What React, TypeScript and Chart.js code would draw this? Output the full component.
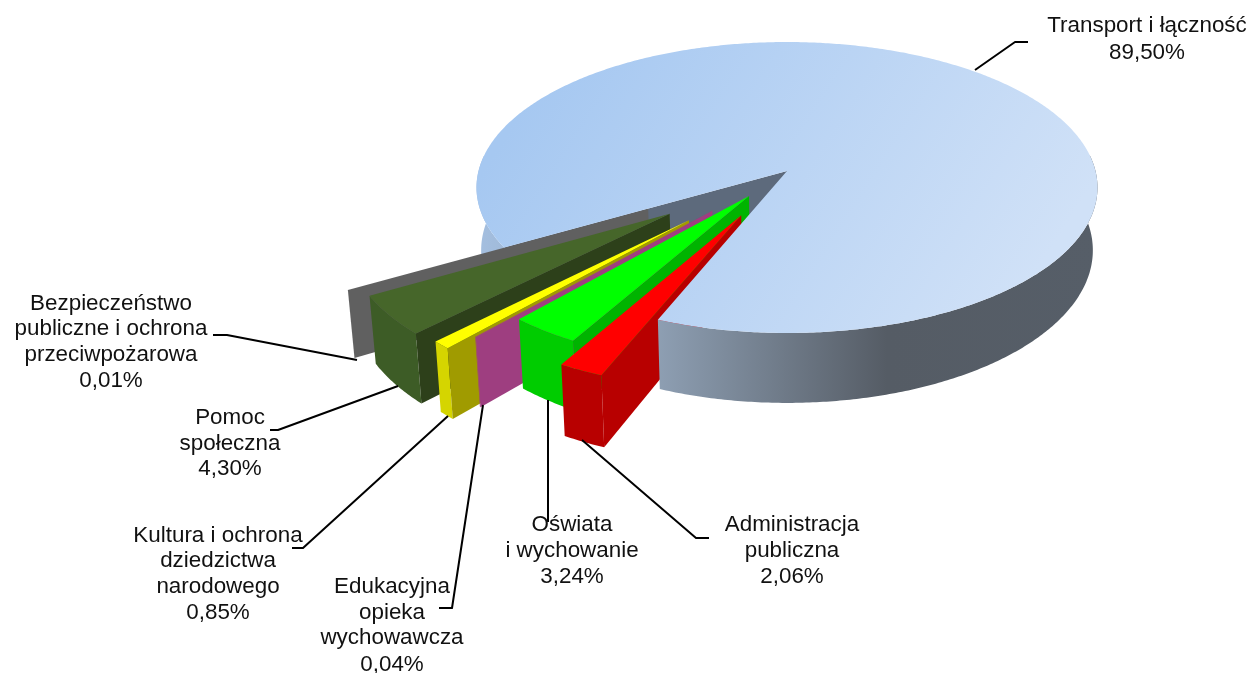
import React, { useEffect, useRef } from "react";
import { Chart, registerables } from "chart.js";

Chart.register(...registerables);

// ---- data ----
const categories = [
  "Transport i łączność",
  "Administracja publiczna",
  "Oświata i wychowanie",
  "Edukacyjna opieka wychowawcza",
  "Kultura i ochrona dziedzictwa narodowego",
  "Pomoc społeczna",
  "Bezpieczeństwo publiczne i ochrona przeciwpożarowa",
];
const shares = [89.5, 2.06, 3.24, 0.04, 0.85, 4.3, 0.01];
const explosions = [0, 102, 64.5, 110, 139, 144, 156];
const topColors = ["#B8D2F3", "#FF0000", "#00FF00", "#A0407F", "#FFFF00", "#46662A", "#606060"];
const rimColors = ["#7A8797", "#B80000", "#00CC00", "#9E3E80", "#D5D500", "#3D5C26", "#606060"];
const wallColors = ["#5D6A7C", "#B80000", "#00B400", "#9E3E80", "#A09B00", "#2D401A", "#606060"];

const labelLines = [
  ["Transport i łączność", "89,50%"],
  ["Administracja", "publiczna", "2,06%"],
  ["Oświata", "i wychowanie", "3,24%"],
  ["Edukacyjna", "opieka", "wychowawcza", "0,04%"],
  ["Kultura i ochrona", "dziedzictwa", "narodowego", "0,85%"],
  ["Pomoc", "społeczna", "4,30%"],
  ["Bezpieczeństwo", "publiczne i ochrona", "przeciwpożarowa", "0,01%"],
];

// ---- layout ----
const WIDTH = 1250;
const HEIGHT = 673;
const CENTER_X = 787;
const CENTER_Y = 171;
const RADIUS = 308.5;
const PERSPECTIVE = 0.1134;
const SQUASH = 0.4655;
const DEPTH = 62;
const CONVERGE = 0.015;
const ROTATION = 239.8;
const FONT = "22.4px 'Liberation Sans', Arial, sans-serif";
const labelBoxes: { x: number; ys: number[] }[] = [
  { x: 1147, ys: [26, 53] },
  { x: 792, ys: [525, 551, 577] },
  { x: 572, ys: [525, 551, 577] },
  { x: 392, ys: [587, 613, 638, 665] },
  { x: 218, ys: [536, 561, 587, 613] },
  { x: 230, ys: [418, 444, 469] },
  { x: 111, ys: [304, 329, 355, 381] },
];
const leaders: number[][][] = [
  [[1028, 42], [1015, 42], [975, 70]],
  [[709, 538], [696, 538], [582, 440]],
  [[548, 522], [548, 400]],
  [[439, 608], [452, 608], [483, 405]],
  [[292, 548], [303, 548], [448, 416]],
  [[270, 430], [278, 430], [398, 386]],
  [[213, 335], [227, 335], [357, 360]],
];

function project(fx: number, fy: number, h: number, cx: number, cy: number, R: number) {
  const w = 1 / (1 - (PERSPECTIVE * fy) / R);
  return {
    x: cx + fx * w * (1 - CONVERGE * h),
    y: cy + SQUASH * fy * w + DEPTH * w * h,
  };
}

const pie3d = {
  id: "pie3d",
  beforeDatasetDraw(chart: any) {
    const ctx: CanvasRenderingContext2D = chart.ctx;
    const arcs = chart.getDatasetMeta(0).data as any[];

    const geom = arcs.map((arc, i) => {
      const { x, y, startAngle, endAngle, outerRadius } = arc.getProps(
        ["x", "y", "startAngle", "endAngle", "outerRadius"],
        true
      );
      const mid = (startAngle + endAngle) / 2;
      const off = arc.options.offset || 0;
      const ox = Math.cos(mid) * off;
      const oy = Math.sin(mid) * off;
      const P = (r: number, a: number, h: number) =>
        project(ox + Math.cos(a) * r, oy + Math.sin(a) * r, h, x, y, outerRadius);
      return { startAngle, endAngle, outerRadius, P, i };
    });

    const poly = (pts: { x: number; y: number }[], fill: any) => {
      ctx.beginPath();
      pts.forEach((p, k) => (k ? ctx.lineTo(p.x, p.y) : ctx.moveTo(p.x, p.y)));
      ctx.closePath();
      ctx.fillStyle = fill;
      ctx.fill();
    };

    const angles = (g: any) => {
      const n = Math.max(2, Math.ceil((g.endAngle - g.startAngle) / 0.01));
      const out: number[] = [];
      for (let k = 0; k <= n; k++) out.push(g.startAngle + ((g.endAngle - g.startAngle) * k) / n);
      return out;
    };

    const rimRuns = (g: any) => {
      const runs: number[][] = [];
      let cur: number[] = [];
      for (const a of angles(g)) {
        if (Math.sin(a) > -0.12) cur.push(a);
        else if (cur.length) {
          runs.push(cur);
          cur = [];
        }
      }
      if (cur.length) runs.push(cur);
      return runs;
    };

    const drawRun = (g: any, run: number[], fill: any) => {
      const R = g.outerRadius;
      const pts = run.map((a) => g.P(R, a, 0));
      const low = run.slice().reverse().map((a) => g.P(R, a, 1));
      poly(pts.concat(low), fill);
    };

    const drawWall = (g: any, fill: any) => {
      const R = g.outerRadius;
      poly(
        [g.P(0, g.startAngle, 0), g.P(R, g.startAngle, 0), g.P(R, g.startAngle, 1), g.P(0, g.startAngle, 1)],
        fill
      );
    };

    const drawTop = (g: any, fill: any) => {
      const R = g.outerRadius;
      poly([g.P(0, g.startAngle, 0), ...angles(g).map((a) => g.P(R, a, 0))], fill);
    };

    const rimGrad = ctx.createLinearGradient(477, 0, 1098, 0);
    rimGrad.addColorStop(0, "#A4BFE0");
    rimGrad.addColorStop(0.29, "#8E9FB3");
    rimGrad.addColorStop(0.66, "#555C65");
    rimGrad.addColorStop(1, "#565E68");
    const topGrad = ctx.createLinearGradient(560, 50, 1000, 330);
    topGrad.addColorStop(0, "#A6C8F1");
    topGrad.addColorStop(1, "#D0E1F7");

    const big = geom[0];
    const runs = rimRuns(big);
    drawWall(big, wallColors[0]);
    if (runs.length > 1) drawRun(big, runs[0], rimGrad);

    for (let i = geom.length - 1; i >= 1; i--) {
      const g = geom[i];
      rimRuns(g).forEach((r) => drawRun(g, r, rimColors[i]));
      drawWall(g, wallColors[i]);
      drawTop(g, topColors[i]);
    }

    drawRun(big, runs[runs.length - 1], rimGrad);
    drawTop(big, topGrad);
    return false;
  },
  afterDraw(chart: any) {
    const ctx: CanvasRenderingContext2D = chart.ctx;
    ctx.save();
    ctx.strokeStyle = "#000000";
    ctx.lineWidth = 2;
    ctx.lineJoin = "round";
    leaders.forEach((line) => {
      ctx.beginPath();
      line.forEach((p, k) => (k ? ctx.lineTo(p[0], p[1]) : ctx.moveTo(p[0], p[1])));
      ctx.stroke();
    });
    ctx.fillStyle = "#111111";
    ctx.font = FONT;
    ctx.textAlign = "center";
    ctx.textBaseline = "middle";
    labelLines.forEach((lines, i) => {
      lines.forEach((t, k) => ctx.fillText(t, labelBoxes[i].x, labelBoxes[i].ys[k]));
    });
    ctx.restore();
  },
};

export default function App() {
  const ref = useRef<HTMLCanvasElement>(null);
  useEffect(() => {
    const chart = new Chart(ref.current as HTMLCanvasElement, {
      type: "pie",
      data: {
        labels: categories,
        datasets: [
          {
            data: shares,
            backgroundColor: topColors,
            offset: explosions,
            borderWidth: 0,
          },
        ],
      },
      options: {
        responsive: false,
        animation: false,
        rotation: ROTATION,
        radius: RADIUS,
        layout: {
          padding: {
            left: CENTER_X - (WIDTH - CENTER_X),
            bottom: HEIGHT - 2 * CENTER_Y,
          },
        },
        plugins: { legend: { display: false }, tooltip: { enabled: false } },
      },
      plugins: [pie3d],
    } as any);
    return () => chart.destroy();
  }, []);
  return (
    <div style={{ position: "fixed", left: 0, top: 0, width: WIDTH, height: HEIGHT, background: "#fff" }}>
      <canvas ref={ref} width={WIDTH} height={HEIGHT} style={{ display: "block" }} />
    </div>
  );
}
